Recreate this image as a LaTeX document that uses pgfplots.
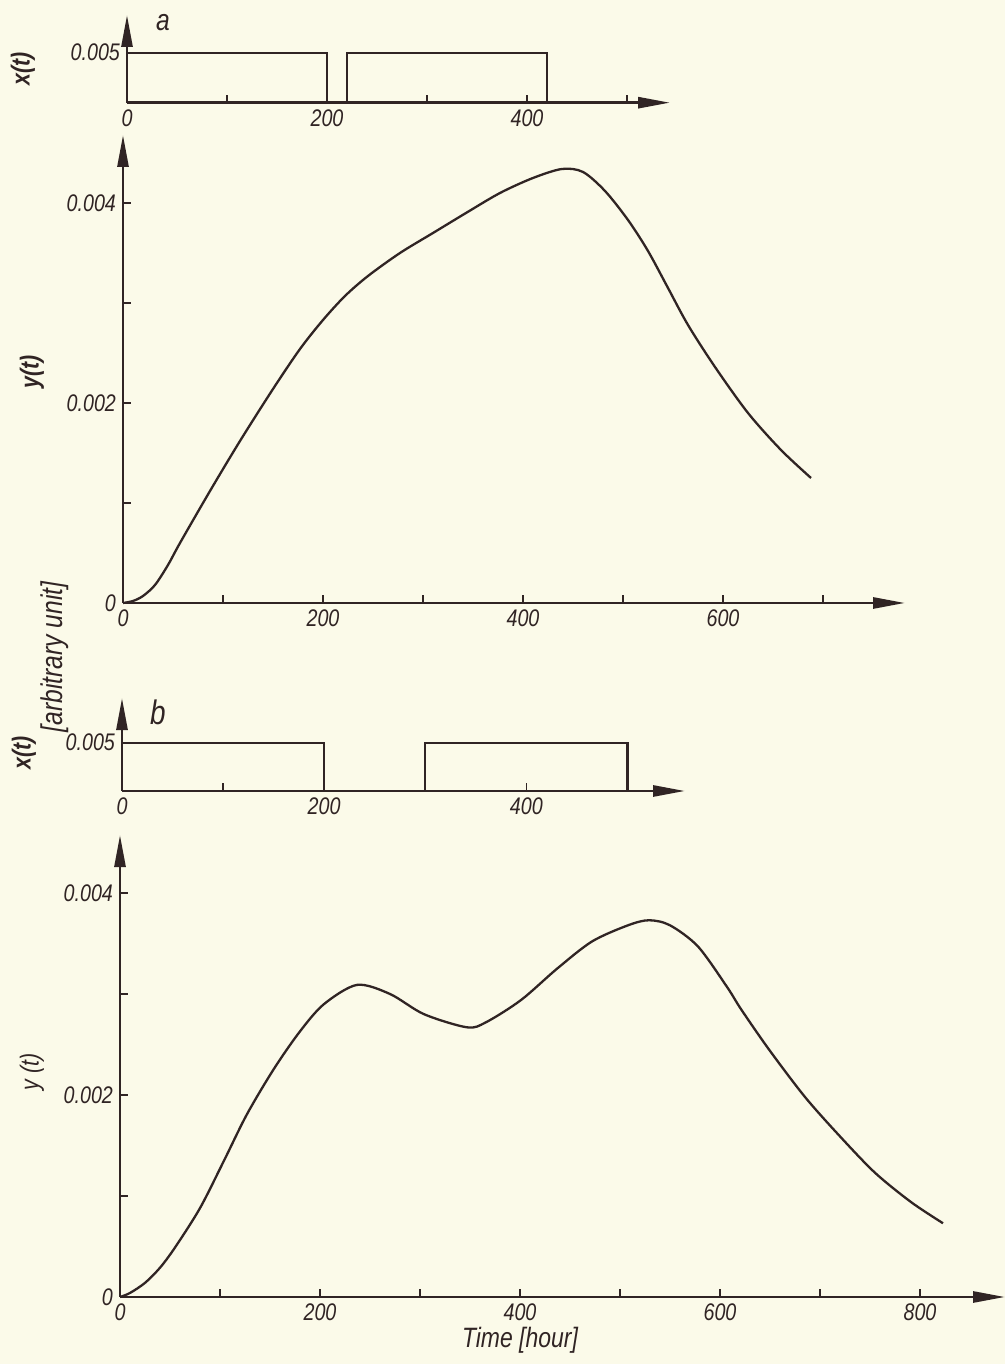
\documentclass[border=0pt]{standalone}
\usepackage{fontspec}
\setmainfont{Liberation Sans}[FakeStretch=0.82]
\usepackage{pgfplots}
\pgfplotsset{compat=1.18}
\usetikzlibrary{arrows.meta}

\definecolor{ink}{RGB}{48,36,36}
\definecolor{paper}{RGB}{251,250,233}
\newcommand{\tickfont}{\fontsize{12}{13}\selectfont\itshape}

\pgfplotsset{
  sch/.style={
    scale only axis, axis lines=left, anchor=south west,
    xmin=0, ymin=0, clip=false,
    scaled x ticks=false, scaled y ticks=false,
    axis line style={ink, line width=1.4pt},
    x axis line style={-{Triangle[length=16pt,width=5.5pt]}},
    y axis line style={-{Triangle[length=16pt,width=5.5pt]}},
    tick align=inside, major tick length=4pt,
    tick style={ink, line width=0.6pt},
    ticklabel style={font=\tickfont, text=ink},
    every axis plot/.append style={ink, line width=1.15pt, mark=none},
  },
}

\begin{document}
\begin{tikzpicture}[x=0.5pt,y=0.5pt]
\fill[paper] (0,0) rectangle (1005,1364);

% panel a, input
\begin{axis}[sch, at={(63.5pt,630.65pt)}, width=271.5pt, height=43.85pt,
  xmax=543, ymax=0.00877,
  xtick={0,100,200,300,400,500}, xticklabels={0,,200,,400,},
  ytick={0.005}, yticklabels={0.005}]
\addplot[sharp plot] coordinates {(0,0.005) (200,0.005) (200,0) (220,0) (220,0.005) (420,0.005) (420,0)};
\end{axis}

% panel a, response
\begin{axis}[sch, at={(61.5pt,380.5pt)}, width=391pt, height=234pt,
  xmax=782, ymax=0.00468,
  xtick={0,100,200,300,400,500,600,700}, xticklabels={0,,200,,400,,600,},
  ytick={0,0.001,0.002,0.003,0.004}, yticklabels={0,,0.002,,0.004}]
\addplot[smooth] coordinates {
  (0,0) (10,0.00002) (20,0.00007) (32,0.00018) (45,0.00038) (57,0.0006)
  (87,0.00112) (117,0.00162) (150,0.00214) (177,0.00254) (200,0.00283)
  (222,0.00307) (245,0.00327) (277,0.0035) (310,0.0037) (343,0.0039)
  (377,0.0041) (410,0.00425) (439,0.00434) (460,0.00431) (482,0.00412)
  (505,0.00383) (525,0.00352) (545,0.00315) (565,0.00278) (592,0.00236)
  (625,0.0019) (658,0.00153) (688,0.00125)
};
\end{axis}

% panel b, input
\begin{scope}[shift={(61pt,286.5pt)}]
\begin{axis}[sch, at={(0pt,0pt)}, width=281.5pt, height=46.5pt,
  xmax=557, ymax=0.00963,
  xtick={0,100,200,300,400,500}, xticklabels={0,,200,,400,},
  ytick={0.005}, yticklabels={0.005}]
\addplot[sharp plot] coordinates {(0,0.005) (200,0.005) (200,0) (300,0) (300,0.005) (500,0.005) (500,0)};
\end{axis}
\end{scope}

% panel b, response
\begin{axis}[sch, at={(60pt,33.5pt)}, width=442.5pt, height=231pt,
  xmax=885, ymax=0.004574,
  xtick={0,100,200,300,400,500,600,700,800}, xticklabels={0,,200,,400,,600,,800},
  ytick={0,0.001,0.002,0.003,0.004}, yticklabels={0,,0.002,,0.004}]
\addplot[smooth] coordinates {
  (0,0) (10,0.00004) (25,0.00014) (40,0.00029) (55,0.00049) (80,0.00088)
  (104,0.00135) (127,0.00181) (154,0.00226) (180,0.00263) (204,0.0029)
  (237,0.00309) (270,0.003) (304,0.0028) (347,0.00267) (366,0.00272)
  (401,0.00294) (437,0.00325) (472,0.00352) (508,0.00368) (529,0.00373)
  (550,0.00368) (578,0.00347) (607,0.00307) (621,0.00285) (649,0.00245)
  (685,0.00198) (720,0.00159) (755,0.00123) (791,0.00094) (823,0.00073)
};
\end{axis}

\begin{scope}[every node/.style={text=ink, inner sep=0pt}]
\node[font=\fontsize{15}{16}\selectfont\itshape] at (163,1341) {a};
\node[font=\fontsize{13}{14}\selectfont\bfseries\itshape, rotate=90] at (23,1295) {x(t)};
\node[font=\fontsize{13}{14}\selectfont\bfseries\itshape, rotate=90] at (32,992) {y(t)};
\node[font=\fontsize{15}{16}\selectfont\itshape, rotate=90] at (55,707) {[arbitrary unit]};
\node[font=\fontsize{17}{18}\selectfont\itshape] at (158,652) {b};
\node[font=\fontsize{13}{14}\selectfont\bfseries\itshape, rotate=90] at (24,611) {x(t)};
\node[font=\fontsize{13}{14}\selectfont\itshape, rotate=90] at (32,292) {y (t)};
\node[font=\fontsize{14}{15}\selectfont\itshape] at (520,24) {Time [hour]};
\end{scope}

\pgfresetboundingbox
\useasboundingbox (0,0) rectangle (1005,1364);
\end{tikzpicture}
\end{document}
